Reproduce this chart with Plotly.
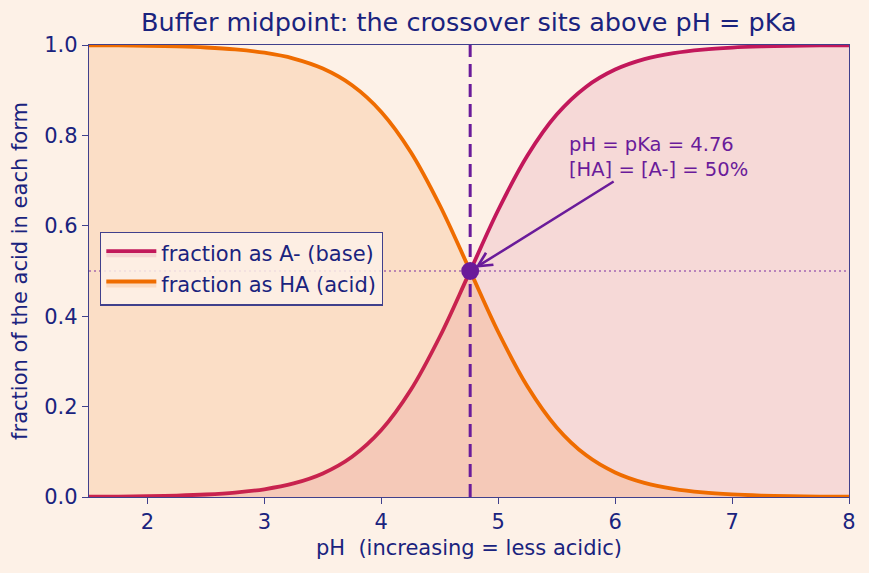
import plotly.graph_objects as go

# ---- data ----
PKA = 4.76
ph = [1.5, 1.75, 2.0, 2.25, 2.5, 2.75, 3.0, 3.25, 3.5, 3.75, 4.0, 4.25, 4.5,
      4.75, 5.0, 5.25, 5.5, 5.75, 6.0, 6.25, 6.5, 6.75, 7.0, 7.25, 7.5, 7.75, 8.0]
frac_base = [0.0005, 0.0010, 0.0017, 0.0031, 0.0055, 0.0097, 0.0171, 0.0300, 0.0521,
             0.0890, 0.1480, 0.2360, 0.3545, 0.4942, 0.6350, 0.7555, 0.8460, 0.9072,
             0.9456, 0.9687, 0.9821, 0.9899, 0.9943, 0.9968, 0.9982, 0.9990, 0.9994]
frac_acid = [0.9995, 0.9990, 0.9983, 0.9969, 0.9945, 0.9903, 0.9829, 0.9700, 0.9479,
             0.9110, 0.8520, 0.7640, 0.6455, 0.5058, 0.3650, 0.2445, 0.1540, 0.0928,
             0.0544, 0.0313, 0.0179, 0.0101, 0.0057, 0.0032, 0.0018, 0.0010, 0.0006]
x_range = [1.5, 8.0]
y_range = [0.0, 1.0]
x_ticks = [2, 3, 4, 5, 6, 7, 8]
y_ticks = [0.0, 0.2, 0.4, 0.6, 0.8, 1.0]
y_ticklabels = ["0.0", "0.2", "0.4", "0.6", "0.8", "1.0"]
mid_frac = 0.5
arrow_tail = (6.0, 0.70)
text_pos = (5.585, 0.81)

# ---- styles ----
BG = "#fdf1e7"
NAVY = "#1a237e"
SPINE = "#40408c"
RED = "#c2185b"
ORANGE = "#ef6c00"
PURPLE = "#6a1b9a"
FONT = "DejaVu Sans"
FS = 21

fig = go.Figure()

fig.add_trace(go.Scatter(
    x=ph, y=frac_base, mode="lines", name="fraction as A- (base)",
    line=dict(color=RED, width=3.8, shape="spline"),
    fill="tozeroy", fillcolor="rgba(194,24,91,0.11)"))
fig.add_trace(go.Scatter(
    x=ph, y=frac_acid, mode="lines", name="fraction as HA (acid)",
    line=dict(color=ORANGE, width=3.8, shape="spline"),
    fill="tozeroy", fillcolor="rgba(239,108,0,0.14)"))

# horizontal dotted line at 50%
fig.add_trace(go.Scatter(
    x=x_range, y=[mid_frac, mid_frac], mode="lines", showlegend=False,
    line=dict(color="rgba(106,27,154,0.6)", width=1.3, dash="2px,3px"),
    hoverinfo="skip"))
# vertical dashed line at pKa
fig.add_trace(go.Scatter(
    x=[PKA, PKA], y=y_range, mode="lines", showlegend=False,
    line=dict(color=PURPLE, width=3, dash="13px,7px"), hoverinfo="skip"))
# midpoint marker
fig.add_trace(go.Scatter(
    x=[PKA], y=[mid_frac], mode="markers", showlegend=False,
    marker=dict(color=PURPLE, size=18)))

fig.add_annotation(
    x=PKA, y=mid_frac, xref="x", yref="y",
    ax=arrow_tail[0], ay=arrow_tail[1], axref="x", ayref="y",
    text="", showarrow=True, arrowhead=5, arrowsize=1.1, arrowwidth=2.5,
    arrowcolor=PURPLE, standoff=6)
fig.add_annotation(
    x=text_pos[0], y=text_pos[1], xref="x", yref="y",
    text="pH = pKa = 4.76<br>[HA] = [A-] = 50%", showarrow=False,
    xanchor="left", yanchor="top", align="left",
    font=dict(family=FONT, size=19.5, color=PURPLE))

fig.update_layout(
    width=869, height=573,
    margin=dict(l=89, r=20, t=45, b=76),
    paper_bgcolor=BG, plot_bgcolor=BG,
    font=dict(family=FONT, color=NAVY, size=FS),
    title=dict(text="Buffer midpoint: the crossover sits above pH = pKa",
               x=0.5395, xanchor="center", y=1 - 22 / 573, yanchor="middle",
               yref="container", font=dict(size=25.5, color=NAVY)),
    showlegend=True,
    legend=dict(x=0.0145, y=0.505, xanchor="left", yanchor="middle",
                bgcolor="rgba(253,241,231,0.85)", bordercolor=SPINE, borderwidth=1.3,
                font=dict(size=FS, color=NAVY), tracegroupgap=0, itemwidth=50),
)
fig.update_xaxes(
    range=x_range, tickvals=x_ticks, showgrid=False, zeroline=False,
    showline=True, linecolor=SPINE, linewidth=1.3, mirror=True,
    ticks="outside", ticklen=6, tickcolor=SPINE, tickwidth=1.3,
    tickfont=dict(size=FS, color=NAVY),
    title=dict(text="pH  (increasing = less acidic)", standoff=6,
               font=dict(size=FS, color=NAVY)))
fig.update_yaxes(
    range=y_range, tickvals=y_ticks, ticktext=y_ticklabels, showgrid=False,
    zeroline=False, showline=True, linecolor=SPINE, linewidth=1.3, mirror=True,
    ticks="outside", ticklen=6, tickcolor=SPINE, tickwidth=1.3,
    tickfont=dict(size=FS, color=NAVY),
    title=dict(text="fraction of the acid in each form", standoff=10,
               font=dict(size=FS, color=NAVY)))

fig.write_html("out.html")
